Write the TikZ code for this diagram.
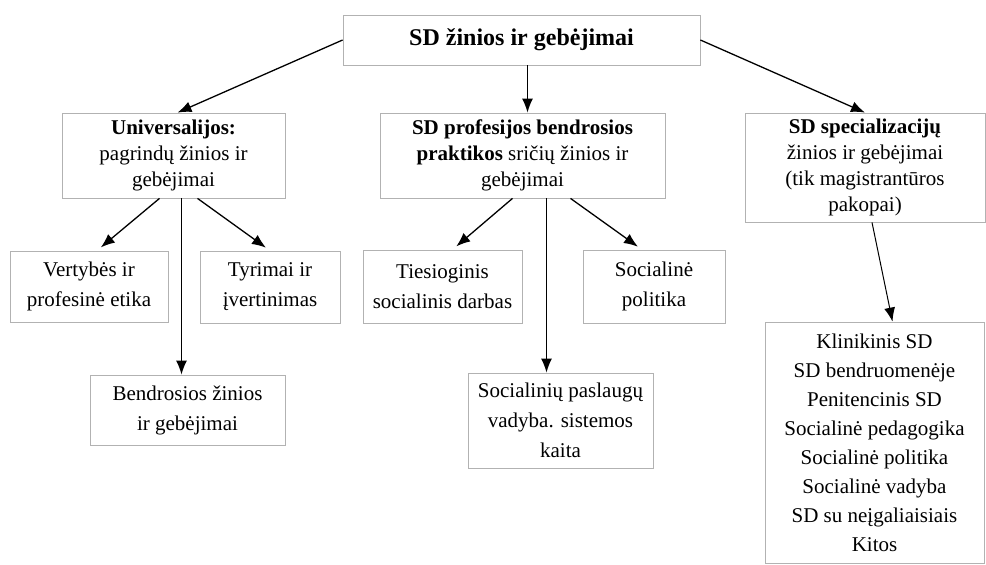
\documentclass[tikz,border=0pt]{standalone}
\usepackage{fontspec}
\setmainfont{Liberation Serif}
\usetikzlibrary{arrows.meta}

\begin{document}
\begin{tikzpicture}[x=1pt,y=-1pt,
			box/.style={rectangle,draw=gray!60,line width=0.8pt,align=center,
				inner sep=0pt,font=\fontsize{21}{26}\selectfont},
			low box/.style={box,font=\fontsize{21}{30}\selectfont},
			arrow/.style={-{Latex[length=14pt,width=11pt]},line width=1.3pt}]
			
			\useasboundingbox (0,0) rectangle (986,565);
			
			\node[box,minimum width=357pt,minimum height=50pt,
				font=\fontsize{24}{28}\selectfont\bfseries] (top) at (521.5,40) {SD žinios ir gebėjimai};
			
			\node[box,minimum width=223pt,minimum height=85pt] (univ) at (173.5,155.5)
				{\textbf{Universalijos:}\\ pagrindų žinios ir\\ gebėjimai};
			\node[box,minimum width=285pt,minimum height=85pt] (mid) at (522.5,155.5)
				{\textbf{SD profesijos bendrosios}\\ \textbf{praktikos} sričių žinios ir\\ gebėjimai};
			\node[box,minimum width=240pt,minimum height=109pt] (spec) at (865,167.5)
				{\textbf{SD specializacijų}\\ žinios ir gebėjimai\\ (tik magistrantūros\\ pakopai)};
			
			\node[low box,minimum width=158pt,minimum height=71pt] (vert) at (89,286.5)
				{Vertybės ir\\ profesinė etika};
			\node[low box,minimum width=140pt,minimum height=72pt] (tyr) at (270,287)
				{Tyrimai ir\\ įvertinimas};
			\node[low box,minimum width=195pt,minimum height=70pt] (bend) at (187.5,410)
				{Bendrosios žinios\\ ir gebėjimai};
			
			\node[low box,minimum width=159pt,minimum height=73pt] (ties) at (442.5,286.5)
				{Tiesioginis\\ socialinis darbas};
			\node[low box,minimum width=142pt,minimum height=73pt] (socpol) at (654,286.5)
				{Socialinė\\ politika};
			\node[low box,minimum width=185pt,minimum height=95pt] (pasl) at (560.5,420.5)
				{Socialinių paslaugų\\ vadyba. sistemos\\ kaita};
			
			\node[box,minimum width=219pt,minimum height=241pt,
				font=\fontsize{21}{29}\selectfont] (list) at (874.5,442.5)
				{Klinikinis SD\\ SD bendruomenėje\\ Penitencinis SD\\ Socialinė pedagogika\\
				Socialinė politika\\ Socialinė vadyba\\ SD su neįgaliaisiais\\ Kitos};
			
			\path[arrow]
			(top.west) edge ([xshift=4pt]univ.north)
			([xshift=6pt]top.south) edge ([xshift=5pt]mid.north)
			(top.east) edge (spec.north)
			([xshift=-14pt]univ.south) edge[shorten >=5pt] ([xshift=8pt]vert.north)
			([xshift=8pt]univ.south) edge ([xshift=-6pt]bend.north)
			([xshift=24pt]univ.south) edge[shorten >=5pt] (tyr.north)
			([xshift=-10pt]mid.south) edge[shorten >=5pt] ([xshift=10pt]ties.north)
			([xshift=24pt]mid.south) edge ([xshift=-14pt]pasl.north)
			([xshift=48pt]mid.south) edge[shorten >=5pt] ([xshift=-12pt]socpol.north)
			([xshift=7pt]spec.south) edge[line width=1pt] ([xshift=18pt]list.north);
		\end{tikzpicture}
\end{document}
